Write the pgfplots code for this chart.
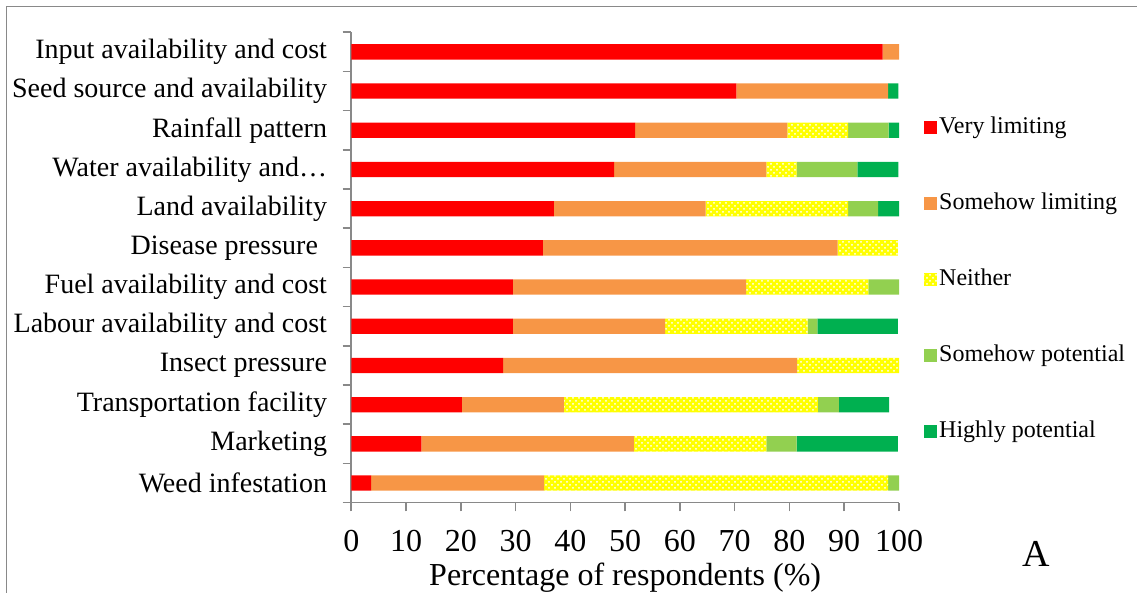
\documentclass[border=0pt]{standalone}
\usepackage{fontspec}
\setmainfont{Liberation Serif}
\usepackage{pgfplots}
\pgfplotsset{compat=1.18}
\usetikzlibrary{patterns}
\definecolor{vl}{HTML}{FF0000}
\definecolor{sl}{HTML}{F79646}
\definecolor{ne}{HTML}{FFFF00}
\definecolor{sp}{HTML}{92D050}
\definecolor{hp}{HTML}{00B050}
\definecolor{axgray}{HTML}{898989}
\begin{document}
\begin{tikzpicture}
\useasboundingbox (0,0) rectangle (568.5pt,296.5pt);
\draw[axgray, line width=0.7pt] (3.3pt,-5pt) -- (3.3pt,293.35pt) -- (575pt,293.35pt);
\begin{axis}[
  at={(175.65pt,45.15pt)}, anchor=south west,
  scale only axis, width=273.85pt, height=235.2pt,
  xbar stacked, bar width=7.65pt,
  xmin=0, xmax=100, ymin=-0.5, ymax=11.5,
  axis x line*=bottom, axis y line*=left,
  axis line style={-, axgray, line width=0.8pt},
  tick style={axgray, line width=0.8pt},
  tick align=outside, major tick length=4.3pt,
  xtick={0,10,...,100},
  ytick={-0.5,0.5,...,11.5},
  y tick label as interval,
  yticklabels={Weed infestation, Marketing, Transportation facility, Insect pressure, Labour availability and cost, Fuel availability and cost, {Disease pressure\hspace*{4.5pt}}, Land availability, Water availability and…, Rainfall pattern, Seed source and availability, Input availability and cost},
  /pgf/number format/assume math mode=true,
  xticklabel style={font=\fontsize{16}{18}\selectfont, anchor=center, yshift=-14.65pt},
  yticklabel style={font=\fontsize{14}{16}\selectfont, anchor=east, inner sep=0pt, xshift=-7.65pt},
  xlabel={Percentage of respondents (\%)},
  x label style={font=\fontsize{16}{18}\selectfont, at={(axis description cs:0.5,0)}, anchor=center, yshift=-37.5pt},
  legend style={at={(1.0456,0.474)}, anchor=west, draw=none, fill=none, inner sep=0pt,
    font=\fontsize{12}{14}\selectfont, row sep=25.5pt, cells={anchor=west},
    nodes={inner sep=1pt, text height=8pt, text depth=2.5pt}},
  legend image code/.code={\draw[#1, draw=none] (0pt,-3.2pt) rectangle (6.4pt,3.2pt);},
]
\addplot[fill=vl, draw=none] coordinates {(3.6,0) (12.8,1) (20.2,2) (27.7,3) (29.5,4) (29.5,5) (35.0,6) (37.0,7) (48.0,8) (51.8,9) (70.3,10) (97.0,11)};
\addplot[fill=sl, draw=none] coordinates {(31.6,0) (38.8,1) (18.6,2) (53.7,3) (27.8,4) (42.6,5) (53.8,6) (27.7,7) (27.8,8) (27.8,9) (27.7,10) (3.0,11)};
\addplot[fill=ne, draw=none, postaction={pattern=crosshatch dots, pattern color=white}] coordinates {(62.8,0) (24.2,1) (46.4,2) (18.6,3) (26.0,4) (22.3,5) (11.0,6) (26.0,7) (5.5,8) (11.1,9) (0,10) (0,11)};
\addplot[fill=sp, draw=none] coordinates {(2.0,0) (5.5,1) (3.8,2) (0,3) (1.8,4) (5.6,5) (0,6) (5.5,7) (11.1,8) (7.4,9) (0,10) (0,11)};
\addplot[fill=hp, draw=none] coordinates {(0,0) (18.5,1) (9.2,2) (0,3) (14.7,4) (0,5) (0,6) (3.8,7) (7.5,8) (1.9,9) (1.9,10) (0,11)};
\legend{Very limiting, Somehow limiting, Neither, Somehow potential, Highly potential}
\end{axis}
\node[font=\fontsize{19}{22}\selectfont, inner sep=0pt] at (518.25pt,19.4pt) {A};
\end{tikzpicture}
\end{document}
